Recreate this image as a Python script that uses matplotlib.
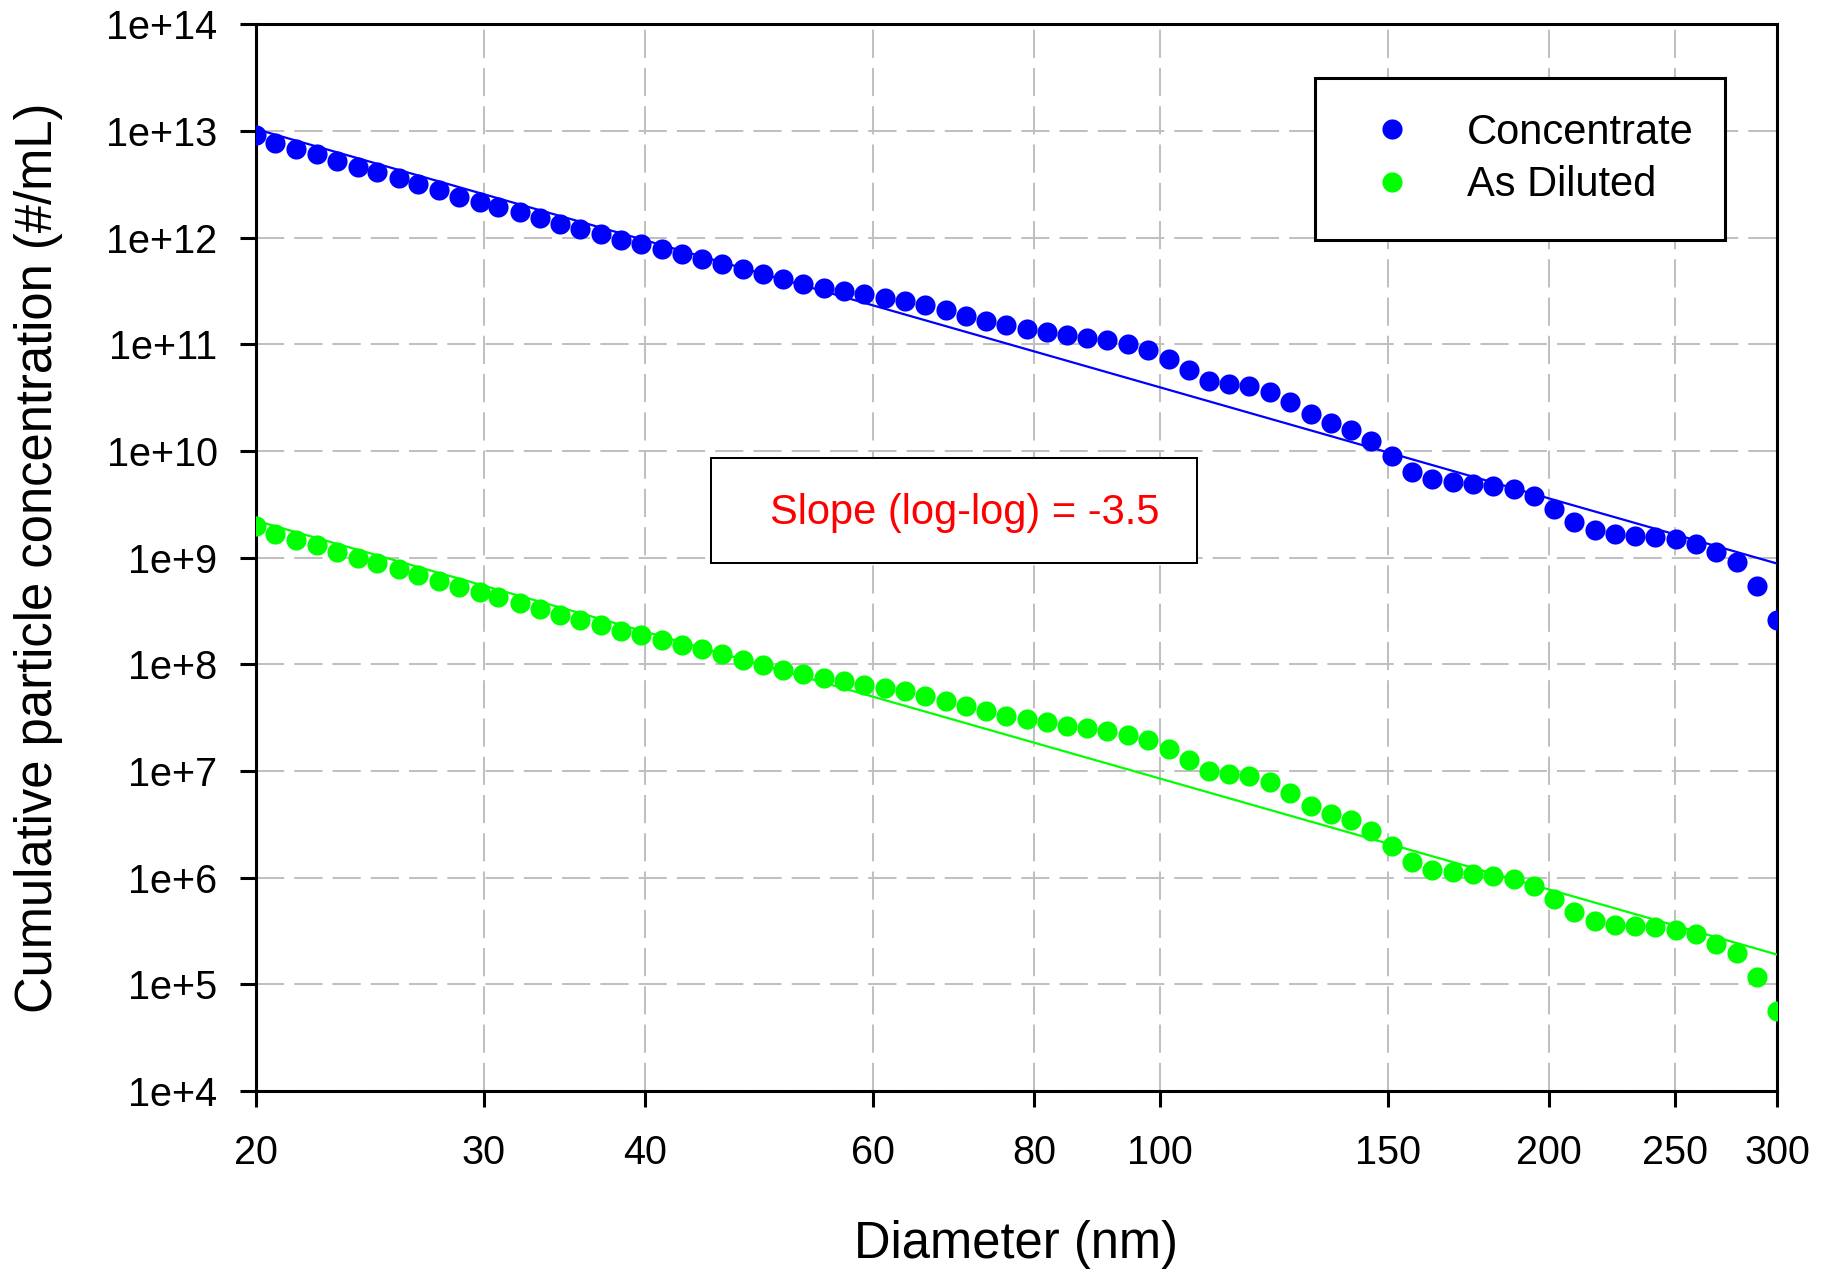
import matplotlib
matplotlib.use("Agg")
import matplotlib.pyplot as plt
from matplotlib.ticker import FixedLocator, FixedFormatter, NullLocator
from matplotlib.patches import Rectangle

plt.rcParams['font.family'] = ['Liberation Sans', 'DejaVu Sans']

# ---------------- data ----------------
diameter_nm = [20.0, 20.7, 21.5, 22.3, 23.1, 24.0, 24.8, 25.8, 26.7, 27.7,
               28.7, 29.8, 30.8, 32.0, 33.2, 34.4, 35.6, 37.0, 38.3, 39.7,
               41.2, 42.7, 44.3, 45.9, 47.6, 49.3, 51.1, 53.0, 55.0, 57.0,
               59.1, 61.3, 63.5, 65.8, 68.3, 70.8, 73.4, 76.1, 78.9, 81.8,
               84.8, 87.9, 91.1, 94.5, 98.0, 101.6, 105.3, 109.2, 113.2, 117.3,
               121.7, 126.1, 130.8, 135.6, 140.6, 145.7, 151.1, 156.7, 162.4, 168.4,
               174.6, 181.0, 187.7, 194.6, 201.7, 209.1, 216.8, 224.8, 233.1, 241.6,
               250.5, 259.7, 269.3, 279.2, 289.5, 300.0]

concentrate = [9.2e12, 7.7e12, 6.7e12, 6.05e12, 5.27e12, 4.63e12, 4.16e12, 3.6e12, 3.17e12, 2.8e12,
               2.42e12, 2.17e12, 1.95e12, 1.72e12, 1.52e12, 1.34e12, 1.2e12, 1.08e12, 9.5e11, 8.67e11,
               7.8e11, 6.98e11, 6.28e11, 5.64e11, 5.06e11, 4.54e11, 4.07e11, 3.68e11, 3.4e11, 3.16e11,
               2.94e11, 2.74e11, 2.55e11, 2.32e11, 2.09e11, 1.85e11, 1.66e11, 1.51e11, 1.40e11, 1.31e11,
               1.22e11, 1.15e11, 1.09e11, 1.01e11, 8.86e10, 7.34e10, 5.75e10, 4.57e10, 4.26e10, 4.08e10,
               3.6e10, 2.9e10, 2.23e10, 1.82e10, 1.58e10, 1.25e10, 9.0e9, 6.41e9, 5.44e9, 5.1e9,
               4.92e9, 4.64e9, 4.41e9, 3.8e9, 2.85e9, 2.15e9, 1.8e9, 1.66e9, 1.61e9, 1.56e9,
               1.48e9, 1.35e9, 1.12e9, 9.0e8, 5.36e8, 2.58e8]

as_diluted = [1.99e9, 1.67e9, 1.47e9, 1.31e9, 1.14e9, 1.0e9, 8.9e8, 7.8e8, 6.9e8, 6.06e8,
              5.29e8, 4.71e8, 4.23e8, 3.75e8, 3.31e8, 2.91e8, 2.61e8, 2.33e8, 2.07e8, 1.89e8,
              1.70e8, 1.51e8, 1.38e8, 1.24e8, 1.10e8, 9.9e7, 8.87e7, 8.09e7, 7.42e7, 6.9e7,
              6.43e7, 5.98e7, 5.56e7, 5.07e7, 4.55e7, 4.03e7, 3.61e7, 3.29e7, 3.06e7, 2.87e7,
              2.65e7, 2.5e7, 2.38e7, 2.18e7, 1.93e7, 1.6e7, 1.26e7, 1.0e7, 9.4e6, 8.9e6,
              7.9e6, 6.2e6, 4.72e6, 3.95e6, 3.44e6, 2.71e6, 1.96e6, 1.39e6, 1.19e6, 1.12e6,
              1.08e6, 1.03e6, 9.7e5, 8.28e5, 6.31e5, 4.72e5, 3.89e5, 3.62e5, 3.49e5, 3.41e5,
              3.2e5, 2.94e5, 2.4e5, 1.96e5, 1.17e5, 5.66e4]

fit_x = [20.0, 300.0]
fit_concentrate = [1.04e13, 8.8e8]
fit_diluted = [2.22e9, 1.9e5]

series_labels = ['Concentrate', 'As Diluted']
slope_text = 'Slope (log-log) = -3.5'

x_ticks = [20, 30, 40, 60, 80, 100, 150, 200, 250, 300]
x_tick_labels = ['20', '30', '40', '60', '80', '100', '150', '200', '250', '300']
y_ticks = [1e4, 1e5, 1e6, 1e7, 1e8, 1e9, 1e10, 1e11, 1e12, 1e13, 1e14]
y_tick_labels = ['1e+4', '1e+5', '1e+6', '1e+7', '1e+8', '1e+9', '1e+10',
                 '1e+11', '1e+12', '1e+13', '1e+14']

x_label = 'Diameter (nm)'
y_label = 'Cumulative particle concentration (#/mL)'

# ---------------- figure ----------------
fig = plt.figure(figsize=(18.28, 12.69), dpi=100)
ax = fig.add_axes([0.1399, 0.1403, 0.8322, 0.8406])
ax.set_xscale('log')
ax.set_yscale('log')

blue = '#0000ff'
green = '#00ff00'

ax.plot(diameter_nm, concentrate, 'o', color=blue, ms=14.5, mec='none',
        label=series_labels[0], zorder=3)
ax.plot(diameter_nm, as_diluted, 'o', color=green, ms=14.5, mec='none',
        label=series_labels[1], zorder=3)
ax.plot(fit_x, fit_concentrate, '-', color=blue, lw=1.6, zorder=3.5,
        label='_nolegend_')
ax.plot(fit_x, fit_diluted, '-', color=green, lw=1.6, zorder=3.5,
        label='_nolegend_')

ax.set_xlim(20, 300)
ax.set_ylim(1e4, 1e14)

ax.xaxis.set_major_locator(FixedLocator(x_ticks))
ax.xaxis.set_major_formatter(FixedFormatter(x_tick_labels))
ax.xaxis.set_minor_locator(NullLocator())
ax.yaxis.set_major_locator(FixedLocator(y_ticks))
ax.yaxis.set_major_formatter(FixedFormatter(y_tick_labels))
ax.yaxis.set_minor_locator(NullLocator())

ax.grid(True, which='major', color='#c0c0c0', lw=1.45, linestyle=(0, (14, 5)))
ax.set_axisbelow(True)

for sp in ax.spines.values():
    sp.set_linewidth(2.2)
    sp.set_color('black')

ax.tick_params(which='major', direction='out', length=11.5, width=2.2,
               labelsize=28.5, color='black')
ax.tick_params(axis='y', pad=16)
ax.tick_params(axis='x', pad=19.5)

ax.set_xlabel(x_label, fontsize=36.5)
ax.set_ylabel(y_label, fontsize=36.5)
ax.xaxis.set_label_coords(0.5, -0.121)
ax.yaxis.set_label_coords(-0.127, 0.5)

leg = ax.legend(loc='upper left', bbox_to_anchor=(0.6963, 0.9497, 0.2695, 0.0),
                mode='expand', fontsize=30, frameon=True, fancybox=False,
                edgecolor='black', framealpha=1, borderpad=0.84,
                handlelength=2.0, handletextpad=0.8, labelspacing=0.3,
                borderaxespad=0, numpoints=1)
leg.get_frame().set_linewidth(2.2)
leg.set_zorder(5)

box = Rectangle((0.2993, 0.4950), 0.3194, 0.0984, transform=ax.transAxes,
                facecolor='white', edgecolor='black', lw=1.45, zorder=4)
ax.add_patch(box)
ax.text(0.4659, 0.5421, slope_text, transform=ax.transAxes, ha='center',
        va='center', color='#ff0000', fontsize=30, zorder=5)

fig.savefig('out.png', dpi=100)
